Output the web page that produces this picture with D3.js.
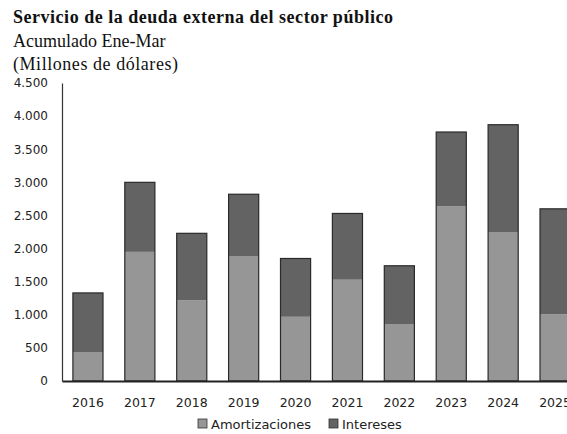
<!DOCTYPE html>
<html lang="es">
<head>
<meta charset="utf-8">
<title>Servicio de la deuda externa del sector público</title>
<script src="https://d3js.org/d3.v7.min.js"></script>
<style>
  body { margin: 0; background: #fff; }
  .title { font-family: "Liberation Serif", serif; font-weight: bold; fill: #111; }
  .sub { font-family: "Liberation Serif", serif; fill: #111; }
  .tick text { font-family: "DejaVu Sans", sans-serif; fill: #222; }
  .legend text { font-family: "DejaVu Sans", sans-serif; fill: #222; }
</style>
</head>
<body>
<div id="chart"></div>
<script>
// data (millones de dólares, acumulado ene-mar)
var years = ["2016", "2017", "2018", "2019", "2020", "2021", "2022", "2023", "2024", "2025"];
var amortizaciones = [430, 1950, 1220, 1880, 970, 1530, 860, 2640, 2250, 1010];
var intereses = [900, 1050, 1010, 940, 880, 1000, 880, 1120, 1620, 1590];
var yTicks = [0, 500, 1000, 1500, 2000, 2500, 3000, 3500, 4000, 4500];
var series = ["Amortizaciones", "Intereses"];
var colors = ["#969696", "#636363"];

var W = 567, H = 434;
var margin = {top: 83, left: 62, bottom: 53};

var svg = d3.select("#chart").append("svg")
    .attr("width", W)
    .attr("height", H);

// titles
svg.append("text").attr("class", "title")
    .attr("x", 13).attr("y", 23)
    .attr("textLength", 380)
    .style("font-size", "18px")
    .text("Servicio de la deuda externa del sector público");
svg.append("text").attr("class", "sub")
    .attr("x", 13).attr("y", 47)
    .style("font-size", "18px")
    .text("Acumulado Ene-Mar");
svg.append("text").attr("class", "sub")
    .attr("x", 13).attr("y", 70)
    .attr("textLength", 165)
    .style("font-size", "18px")
    .text("(Millones de dólares)");

// scales
var x = d3.scaleBand()
    .domain(years)
    .range([margin.left, margin.left + 519])
    .paddingInner(0.42)
    .paddingOuter(0.21);

var y = d3.scaleLinear()
    .domain([0, 4500])
    .range([H - margin.bottom, margin.top]);

// stack
var rows = years.map(function(d, i) {
    return {year: d, Amortizaciones: amortizaciones[i], Intereses: intereses[i]};
});
var stacked = d3.stack().keys(series)(rows);

svg.append("g")
    .selectAll("g")
    .data(stacked)
    .enter().append("g")
    .attr("fill", function(d, i) { return colors[i]; })
    .selectAll("rect")
    .data(function(d) { return d; })
    .enter().append("rect")
    .attr("x", function(d) { return x(d.data.year); })
    .attr("y", function(d) { return y(d[1]); })
    .attr("width", x.bandwidth())
    .attr("height", function(d) { return y(d[0]) - y(d[1]); });

// outline around each whole bar
svg.append("g")
    .selectAll("rect")
    .data(rows)
    .enter().append("rect")
    .attr("x", function(d) { return x(d.year); })
    .attr("y", function(d) { return y(d.Amortizaciones + d.Intereses); })
    .attr("width", x.bandwidth())
    .attr("height", function(d) { return y(0) - y(d.Amortizaciones + d.Intereses); })
    .attr("fill", "none")
    .attr("stroke", "#2a2a2a")
    .attr("stroke-width", 1.2);

// y axis
var yAxis = svg.append("g")
    .attr("transform", "translate(" + margin.left + ",0)")
    .call(d3.axisLeft(y)
        .tickValues(yTicks)
        .tickSize(0)
        .tickPadding(14)
        .tickFormat(function(d) { return d3.format(",")(d).replace(",", "."); }));
yAxis.select(".domain").attr("stroke", "#333").attr("stroke-width", 1.2);
yAxis.selectAll(".tick text").style("font-size", "12px");

// x axis
var xAxis = svg.append("g")
    .attr("transform", "translate(0," + y(0) + ")")
    .call(d3.axisBottom(x).tickSize(0).tickPadding(17));
xAxis.select(".domain").attr("stroke", "#222").attr("stroke-width", 2);
xAxis.selectAll(".tick text").style("font-size", "12.5px");

// legend
var legend = svg.append("g").attr("class", "legend");
var legX = [198, 329];
series.forEach(function(s, i) {
    legend.append("rect")
        .attr("x", legX[i]).attr("y", 419)
        .attr("width", 9).attr("height", 9)
        .attr("fill", colors[i])
        .attr("stroke", "#333").attr("stroke-width", 0.8);
    legend.append("text")
        .attr("x", legX[i] + 13).attr("y", 428.5)
        .style("font-size", "13px")
        .text(s);
});
</script>
</body>
</html>
